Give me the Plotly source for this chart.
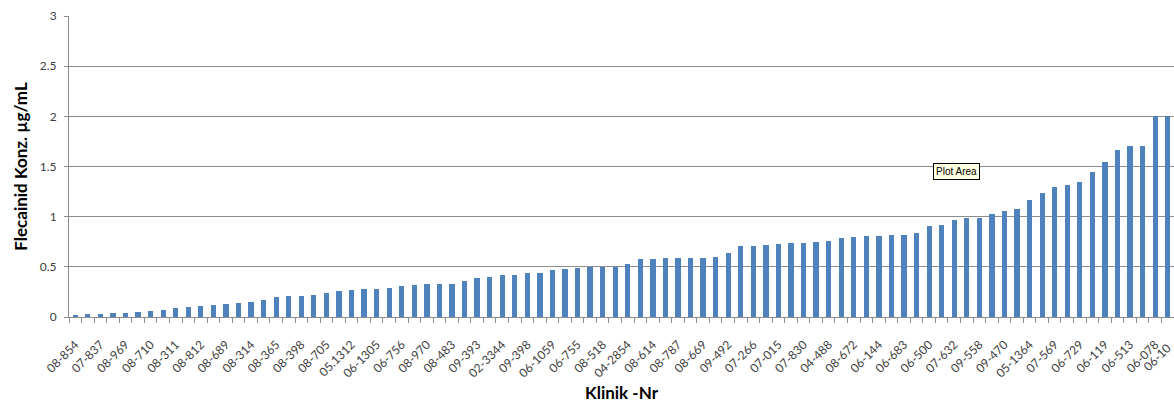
import plotly.graph_objects as go

# Flecainide concentration per patient (sorted ascending), µg/mL
values = [
    0.02, 0.03, 0.03, 0.04, 0.04, 0.05, 0.06, 0.07, 0.09, 0.10,
    0.11, 0.12, 0.13, 0.14, 0.15, 0.17, 0.20, 0.21, 0.21, 0.22,
    0.24, 0.26, 0.27, 0.28, 0.28, 0.29, 0.31, 0.32, 0.33, 0.33,
    0.33, 0.36, 0.39, 0.40, 0.42, 0.42, 0.44, 0.44, 0.47, 0.48,
    0.49, 0.50, 0.50, 0.50, 0.53, 0.58, 0.58, 0.59, 0.59, 0.59,
    0.59, 0.60, 0.64, 0.71, 0.71, 0.72, 0.73, 0.74, 0.74, 0.75,
    0.76, 0.79, 0.80, 0.81, 0.81, 0.82, 0.82, 0.84, 0.91, 0.92,
    0.97, 0.99, 0.99, 1.03, 1.06, 1.08, 1.17, 1.24, 1.30, 1.32,
    1.35, 1.45, 1.54, 1.66, 1.70, 1.70, 2.00, 2.00,
]

# Category labels shown on the axis (every second patient)
tick_labels = [
    "08-854", "07-837", "08-969", "08-710", "08-311", "08-812", "08-689",
    "08-314", "08-365", "08-398", "08-705", "05.1312", "06-1305", "06-756",
    "08-970", "08-483", "09-393", "02-3344", "09-398", "06-1059", "06-755",
    "08-518", "04-2854", "08-614", "08-787", "08-669", "09-492", "07-266",
    "07-015", "07-830", "04-488", "08-672", "06-144", "06-683", "06-500",
    "07-632", "09-558", "09-470", "05-1364", "07-569", "06-729", "06-119",
    "06-513", "06-078", "06-10",
]
label_step = 2

y_title = "Flecainid Konz. µg/mL"
x_title = "Klinik -Nr"

positions = list(range(len(values)))
tick_pos = [i * label_step for i in range(len(tick_labels))]

AXIS_GRAY = "#8c8c8c"
LABEL_GRAY = "#404040"
FONT = "Lato, 'Open Sans', sans-serif"
TITLE_FONT = dict(family=FONT, size=17, color="black", weight="bold")
TICK_FONT = dict(family=FONT, size=12, color=LABEL_GRAY)

x_range = [-0.5, len(values) - 0.5]

fig = go.Figure(
    go.Bar(
        x=positions,
        y=values,
        width=0.42,
        marker=dict(color="#4F81BD", line=dict(width=0)),
        hoverinfo="skip",
    )
)

visible_ticks = [(p, t) for p, t in zip(tick_pos, tick_labels) if p <= x_range[1]]
hidden_ticks = [(p, t) for p, t in zip(tick_pos, tick_labels) if p > x_range[1]]

fig.update_layout(
    width=1174,
    height=403,
    margin=dict(l=69, r=0, t=16, b=86),
    paper_bgcolor="white",
    plot_bgcolor="white",
    showlegend=False,
    bargap=0,
    font=dict(family=FONT, size=12, color=LABEL_GRAY),
    xaxis=dict(
        range=x_range,
        tickmode="array",
        tickvals=[p for p, _ in visible_ticks],
        ticktext=[t for _, t in visible_ticks],
        tickangle=-45,
        ticks="",
        showgrid=False,
        zeroline=False,
        showline=True,
        linecolor=AXIS_GRAY,
        linewidth=1,
        tickfont=TICK_FONT,
        ticklabelstandoff=15,
        minor=dict(
            tickmode="linear",
            tick0=-0.5,
            dtick=1,
            ticks="outside",
            ticklen=5,
            tickcolor=AXIS_GRAY,
            tickwidth=1,
            showgrid=False,
        ),
        title=dict(text=x_title, font=TITLE_FONT, standoff=23),
        automargin=False,
    ),
    yaxis=dict(
        range=[0, 3],
        dtick=0.5,
        tick0=0,
        showgrid=True,
        gridcolor=AXIS_GRAY,
        gridwidth=1,
        zeroline=False,
        showline=True,
        linecolor=AXIS_GRAY,
        linewidth=1,
        ticks="outside",
        ticklen=4,
        tickcolor=AXIS_GRAY,
        tickfont=TICK_FONT,
        ticklabelstandoff=5,
        title=dict(text=y_title, font=TITLE_FONT, standoff=7),
        automargin=False,
    ),
)

# tick labels for categories whose position lies just past the visible plot edge
span = x_range[1] - x_range[0]
for p, t in hidden_ticks:
    fig.add_annotation(
        x=(p - x_range[0]) / span,
        xref="paper",
        y=0,
        yref="paper",
        text=t,
        textangle=-45,
        showarrow=False,
        xanchor="right",
        yanchor="top",
        xshift=-4,
        yshift=-21,
        font=TICK_FONT,
    )

# Excel hover tooltip visible in the original screenshot
fig.add_annotation(
    x=0.782,
    y=0.512,
    xref="paper",
    yref="paper",
    text="Plot Area",
    showarrow=False,
    xanchor="left",
    yanchor="top",
    bgcolor="#FFFFE1",
    bordercolor="black",
    borderwidth=1,
    borderpad=2,
    font=dict(family="Liberation Sans, Arial, sans-serif", size=10, color="black"),
)

# remove the default page margin so the figure fills the window exactly
fig.write_html(
    "out.html",
    config={"staticPlot": True, "displayModeBar": False},
    post_script="document.body.style.margin='0';document.body.style.overflow='hidden';",
)
